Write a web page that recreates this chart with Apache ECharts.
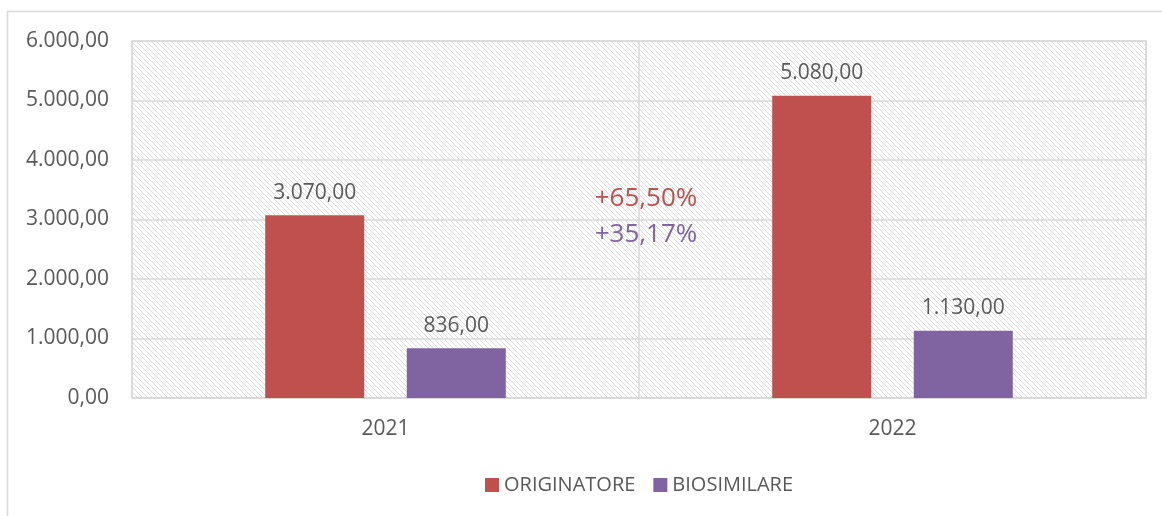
<!DOCTYPE html>
<html>
<head>
<meta charset="utf-8">
<script src="https://cdn.jsdelivr.net/npm/echarts@6/dist/echarts.min.js"></script>
<style>
  html, body { margin: 0; padding: 0; background: #fff; }
  #chart { width: 1162px; height: 516px; }
</style>
</head>
<body>
<div id="chart"></div>
<script>
const years = ['2021', '2022']
const originatore = [3070, 5080]
const biosimilare = [836, 1130]
const seriesNames = ['ORIGINATORE', 'BIOSIMILARE']
const yTicks = [0, 1000, 2000, 3000, 4000, 5000, 6000]
const growthLabels = ['+65,50%', '+35,17%']

const RED = '#C0504D'
const PURPLE = '#8064A2'
const TEXT = '#595959'
const LINE = '#d9d9d9'
const FONT = "'Open Sans', sans-serif"

// italian number format: 6.000,00
const fmt = (v) => {
  const parts = Number(v).toFixed(2).split('.')
  parts[0] = parts[0].replace(/\B(?=(\d{3})+(?!\d))/g, '.')
  return parts.join(',')
}

// light diagonal hatch like the excel plot area fill
const hatch = document.createElement('canvas')
hatch.width = 5
hatch.height = 5
const hctx = hatch.getContext('2d')
hctx.fillStyle = '#ffffff'
hctx.fillRect(0, 0, 5, 5)
hctx.fillStyle = '#dcdcdc'
for (let i = 0; i < 5; i++) { hctx.fillRect(i, i, 1, 1) }

const chart = echarts.init(document.getElementById('chart'))

const option = {
  animation: false,
  backgroundColor: '#ffffff',
  textStyle: { fontFamily: FONT },
  grid: {
    left: 132,
    right: 16,
    top: 41,
    bottom: 118,
    show: true,
    backgroundColor: { image: hatch, repeat: 'repeat' },
    borderColor: LINE,
    borderWidth: 1.5
  },
  legend: {
    left: 480,
    top: 470,
    itemWidth: 14,
    itemHeight: 14,
    itemGap: 18,
    icon: 'rect',
    textStyle: { color: TEXT, fontSize: 20, fontFamily: FONT, padding: [0, 0, 0, 0] },
    data: seriesNames
  },
  xAxis: {
    type: 'category',
    data: years,
    axisLine: { lineStyle: { color: LINE, width: 1.5 } },
    axisTick: { show: false },
    splitLine: { show: true, lineStyle: { color: LINE, width: 1.5 } },
    axisLabel: { color: TEXT, fontSize: 21, fontFamily: FONT, margin: 21 }
  },
  yAxis: {
    type: 'value',
    min: yTicks[0],
    max: yTicks[yTicks.length - 1],
    interval: 1000,
    axisLine: { show: false },
    axisTick: { show: false },
    splitLine: { lineStyle: { color: LINE, width: 1.5 } },
    axisLabel: { color: TEXT, fontSize: 21, fontFamily: FONT, margin: 23, formatter: fmt }
  },
  series: [
    {
      name: seriesNames[0],
      type: 'bar',
      data: originatore,
      barWidth: 99,
      barGap: '43%',
      itemStyle: { color: RED },
      label: {
        show: true, position: 'top', distance: 12,
        color: TEXT, fontSize: 21, fontFamily: FONT,
        formatter: (p) => fmt(p.value)
      }
    },
    {
      name: seriesNames[1],
      type: 'bar',
      data: biosimilare,
      barWidth: 99,
      barGap: '43%',
      itemStyle: { color: PURPLE },
      label: {
        show: true, position: 'top', distance: 12,
        color: TEXT, fontSize: 21, fontFamily: FONT,
        formatter: (p) => fmt(p.value)
      }
    }
  ],
  graphic: [
    {
      type: 'rect',
      silent: true,
      shape: { x: 7.5, y: 11.5, width: 1300, height: 700 },
      style: { fill: 'none', stroke: LINE, lineWidth: 1.5 }
    },
    {
      type: 'text',
      x: 646, y: 199,
      style: {
        text: growthLabels[0], fill: RED, fontSize: 26, fontFamily: FONT,
        align: 'center', verticalAlign: 'middle'
      }
    },
    {
      type: 'text',
      x: 646, y: 235,
      style: {
        text: growthLabels[1], fill: PURPLE, fontSize: 26, fontFamily: FONT,
        align: 'center', verticalAlign: 'middle'
      }
    }
  ]
}

chart.setOption(option)
</script>
</body>
</html>
